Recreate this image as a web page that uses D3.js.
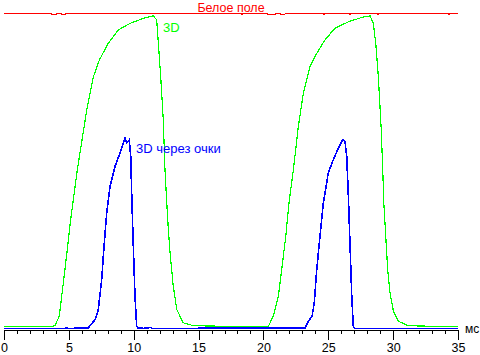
<!DOCTYPE html>
<html>
<head>
<meta charset="utf-8">
<script src="https://cdn.jsdelivr.net/npm/d3@7"></script>
<style>
  body { margin: 0; background: #fff; }
  svg { display: block; font-family: "Liberation Sans", Arial, sans-serif; }
  .axis path, .axis line { stroke: #000; shape-rendering: crispEdges; }
  .axis text { font-size: 12.5px; fill: #000; font-family: "Liberation Sans", Arial, sans-serif; }
</style>
</head>
<body>
<script>
// time in ms, brightness in % of white field
var whiteT = [0, 3.6, 3.7, 4.0, 4.1, 4.4, 4.5, 4.7, 4.8, 18.3, 18.35, 18.4, 20.3, 20.35, 20.9, 21.0, 21.6, 21.7, 24.6, 24.67, 24.75, 26.6, 26.68, 26.75, 28.8, 28.83, 28.9, 34.25, 34.31, 34.4, 35];
var whiteV = [100, 100, 99.4, 99.4, 100, 100, 99.4, 99.4, 100, 100, 99.4, 100, 100, 99.4, 99.4, 100, 99.4, 100, 100, 99.4, 100, 100, 99.4, 100, 100, 99.4, 100, 100, 99.4, 100, 100];

var greenT = [0, 2, 3.68, 3.93, 4.26, 4.70, 5.14, 5.65, 6.38, 6.89, 7.35, 8.04, 8.81, 9.71, 10.74, 11.51, 11.77, 11.90, 12.08, 12.28, 12.41, 12.62, 12.80, 13.05, 13.32, 13.82, 14.60, 17, 20.38, 20.76, 21.15, 21.41, 21.72, 21.97, 22.31, 22.69, 23.08, 23.59, 24.11, 24.75, 25.52, 26.55, 27.58, 28.22, 28.47, 28.66, 28.86, 29.07, 29.20, 29.28, 29.43, 29.58, 29.76, 30.02, 30.40, 31.17, 33, 35];
var greenV = [0.7, 0.6, 0.7, 0.9, 3.9, 18.7, 34.5, 50.3, 69.3, 79.8, 85.1, 90.4, 94.6, 96.7, 98.3, 99.1, 97.8, 90.4, 79.8, 66.1, 50.3, 34.5, 24.1, 13.4, 6.0, 1.8, 0.9, 0.7, 0.7, 3.9, 10.2, 18.7, 29.2, 39.8, 50.3, 64.0, 74.6, 83.0, 87.2, 91.5, 95.2, 97.2, 98.6, 99.1, 96.7, 90.4, 79.8, 64.0, 50.3, 39.8, 29.2, 18.7, 11.3, 5.5, 2.3, 0.9, 0.7, 0.7];

var blueT = [0, 4.7, 4.8, 4.9, 6.50, 7.02, 7.27, 7.53, 7.71, 7.92, 8.17, 8.56, 8.94, 9.33, 9.46, 9.66, 9.77, 9.85, 9.97, 10.10, 10.23, 10.35, 10.6, 10.7, 11.3, 11.4, 23.21, 23.46, 23.75, 23.92, 24.11, 24.36, 24.62, 25.00, 25.39, 25.78, 26.11, 26.29, 26.42, 26.55, 26.68, 26.81, 26.93, 27.06, 35];
var blueV = [0, 0, 0.3, 0, 0.2, 2.8, 6.0, 15.5, 26.0, 36.7, 45.0, 51.4, 55.6, 60.3, 58.8, 59.8, 54.5, 41.9, 26.0, 10.2, 0.7, 0, 0.3, 0, 0.3, 0, 0.2, 2.3, 3.9, 8.1, 18.7, 29.2, 39.8, 49.3, 53.5, 57.2, 59.8, 59.3, 54.5, 41.9, 26.0, 10.2, 0.7, 0, 0];

var majorTicks = [0, 5, 10, 15, 20, 25, 30, 35];
var minorTicks = d3.range(0, 36, 1);

var width = 480, height = 355;

var x = d3.scaleLinear().domain([0, 35]).range([4, 458]);
var y = d3.scaleLinear().domain([0, 100]).range([328.5, 13]);

var svg = d3.select('body').
append('svg').
attr('width', width).
attr('height', height);

//axis: short ticks every ms, long ticks with labels every 5 ms
svg.append('g').
attr('class', 'axis').
attr('transform', 'translate(0,329.5)').
call(d3.axisBottom(x).tickValues(minorTicks).tickSize(4).tickSizeOuter(0).tickFormat(''));

svg.append('g').
attr('class', 'axis').
attr('transform', 'translate(0,329.5)').
call(d3.axisBottom(x).tickValues(majorTicks).tickSize(10).tickSizeOuter(0).tickPadding(4).tickFormat(d3.format('d')));

svg.append('text').
attr('x', 465).
attr('y', 333).
attr('font-size', 12).
text('мс');

var line = d3.line().
x(function (d) {return x(d[0]);}).
y(function (d) {return y(d[1]);});

function draw(t, v, color, w) {
  svg.append('path').
  datum(d3.zip(t, v)).
  attr('fill', 'none').
  attr('stroke', color).
  attr('stroke-width', w).
  attr('shape-rendering', 'crispEdges').
  attr('d', line);
}

draw(whiteT, whiteV, '#ff0000', 1);
draw(greenT, greenV, '#00ff00', 1.2);
draw(blueT, blueV, '#0000ff', 1.6);

//labels
svg.append('text').
attr('x', 231).
attr('y', 11.5).
attr('text-anchor', 'middle').
attr('font-size', 12.5).
attr('fill', '#ff0000').
text('Белое поле');

svg.append('text').
attr('x', 163).
attr('y', 31.5).
attr('font-size', 13).
attr('fill', '#00ff00').
text('3D');

svg.append('text').
attr('x', 136).
attr('y', 153).
attr('font-size', 13).
attr('fill', '#0000ff').
text('3D через очки');
</script>
</body>
</html>
